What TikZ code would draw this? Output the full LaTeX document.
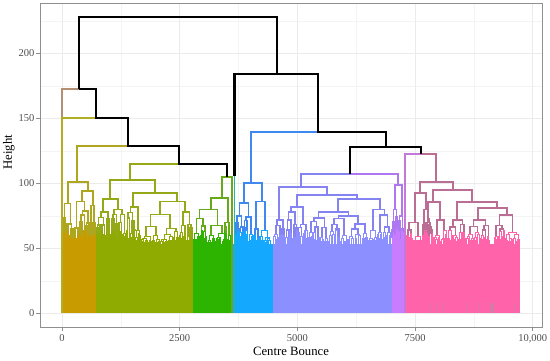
\documentclass[tikz,border=0pt]{standalone}
\usepackage{fontspec}
\setmainfont{Liberation Serif}
\definecolor{cBr}{HTML}{B39074}
\definecolor{cOY}{HTML}{B2AE22}
\definecolor{cOrL}{HTML}{ADA61E}
\definecolor{cOr}{HTML}{C89B00}
\definecolor{cOrS}{HTML}{A3A418}
\definecolor{cOlL}{HTML}{94A818}
\definecolor{cOl}{HTML}{8FAA00}
\definecolor{cGrL}{HTML}{66AA1C}
\definecolor{cGr}{HTML}{2DB400}
\definecolor{cTl}{HTML}{20B8B0}
\definecolor{cBlL}{HTML}{3F88F0}
\definecolor{cBl}{HTML}{14A9FF}
\definecolor{cPwL}{HTML}{8583F2}
\definecolor{cPw}{HTML}{8B8FFF}
\definecolor{cMgL}{HTML}{AE78F2}
\definecolor{cMg}{HTML}{C87CFF}
\definecolor{cPkL}{HTML}{BA6E94}
\definecolor{cPk}{HTML}{FF63A9}
\definecolor{cPkS}{HTML}{D67AA8}
\definecolor{cViP}{HTML}{C678D8}
\definecolor{gmaj}{HTML}{EBEBEB}
\definecolor{gmin}{HTML}{F4F4F4}
\definecolor{bord}{HTML}{8F8F8F}
\definecolor{txt}{HTML}{4D4D4D}
\def\dlo{54}
\def\dthr{64}
\newcommand\br[5]{\draw (#1,#4) |- (#2,#3) -- (#2,#5);}
\newcommand\dnd[4]{%
  \ifnum#4>0
    \begingroup
      \pgfmathsetmacro\dS{#1+(#2-#1)*(0.3+0.4*rnd)}%
      \pgfmathsetmacro\dL{(#1+\dS)/2}%
      \pgfmathsetmacro\dR{(\dS+#2)/2}%
      \pgfmathsetmacro\dHl{\dlo+(#3-\dlo)*(0.3+0.6*rnd)}%
      \pgfmathsetmacro\dHr{\dlo+(#3-\dlo)*(0.3+0.6*rnd)}%
      \ifdim#3pt>\dthr pt
        \draw[dl] (\dL,\dHl) |- (\dR,#3) -- (\dR,\dHr);%
      \else
        \draw[dd] (\dL,\dHl) |- (\dR,#3) -- (\dR,\dHr);%
      \fi
      \edef\dNext{\noexpand\dnd{#1}{\dS}{\dHl}{\the\numexpr#4-1\relax}\noexpand\dnd{\dS}{#2}{\dHr}{\the\numexpr#4-1\relax}}%
    \expandafter\endgroup\dNext
  \else
    \pgfmathsetmacro\dM{(#1+#2)/2}%
    \draw[dd] (\dM,#3) -- (\dM,0);%
  \fi}
\begin{document}
\begin{tikzpicture}[x=1pt,y=1pt,
  gridmaj/.style={gmaj,line width=0.9pt},
  gridmin/.style={gmin,line width=0.5pt},
  blk/.style={black,line width=2.1pt},
  lw/.style={line width=1.8pt},
  tickmark/.style={bord,line width=0.8pt},
  ylab/.style={anchor=east,txt,font=\fontsize{10.5}{12}\selectfont,inner sep=0pt},
  xlab/.style={anchor=base,txt,font=\fontsize{10.5}{12}\selectfont,inner sep=0pt},
  ttl/.style={anchor=base,black,font=\fontsize{12.7}{14}\selectfont,inner sep=0pt}]
\useasboundingbox (0,0) rectangle (550,360);
\pgfmathsetseed{4242}
\begin{scope}[shift={(0,46.7)},yscale=1.3]
% grid
\foreach \x in {120.85,238.55,356.25,473.95} \draw[gridmin] (\x,-10.5) -- (\x,238.7);
\foreach \h in {25,75,125,175,225} \draw[gridmin] (40,\h) -- (542,\h);
\foreach \x in {62,179.7,297.4,415.1,532.8} \draw[gridmaj] (\x,-10.5) -- (\x,238.7);
\foreach \h in {0,50,100,150,200} \draw[gridmaj] (40,\h) -- (542,\h);
% dense fills
\fill[cOr] (62,0) rectangle (96,53);
\fill[cOl] (96,0) rectangle (193.3,53);
\fill[cGr] (193.3,0) rectangle (232.7,53);
\fill[cBl] (232.7,0) rectangle (273.3,53);
\fill[cPw] (273.3,0) rectangle (392.7,53);
\fill[cMg] (392.7,0) rectangle (404,53);
\fill[cPk] (404,0) rectangle (520,53);
\fill[cOrS] (62,0) rectangle (96,7.7);
\fill[cPkS] (404,0) rectangle (520,7.7);
% orange cluster
\begin{scope}[cOrL,lw,dl/.style={cOrL,line width=1.6pt},dd/.style={cOr,line width=1pt}]
\br{68}{88.3}{100.8}{84.6}{94}
\br{82}{93}{94}{86}{83}
\dnd{62}{74}{84.6}{5}
\dnd{74}{90}{86}{5}
\dnd{90}{96}{83}{3}
\end{scope}
% olive cluster
\begin{scope}[cOlL,lw,dl/.style={cOlL,line width=1.6pt},dd/.style={cOl,line width=1pt}]
\br{110}{155}{102.5}{87.7}{92.3}
\br{103.3}{118.3}{87.7}{78}{80}
\br{133.3}{176.7}{92.3}{82}{86}
\br{160}{185}{86}{76}{78}
\dnd{96}{110.6}{78}{5}
\dnd{110.6}{126}{80}{5}
\dnd{126}{140.6}{82}{5}
\dnd{140.6}{179.4}{76}{6}
\dnd{179.4}{192.6}{78}{4}
\end{scope}
% green cluster
\begin{scope}[cGrL,lw,dl/.style={cGrL,line width=1.6pt},dd/.style={cGr,line width=1pt}]
\br{211}{228}{88.5}{80}{70}
\dnd{193}{229}{80}{6}
\dnd{224}{232}{70}{3}
\end{scope}
% blue cluster
\begin{scope}[cBlL,lw,dl/.style={cBlL,line width=1.6pt},dd/.style={cBl,line width=1pt}]
\br{244}{262}{100}{85}{86}
\dnd{235}{253}{85}{5}
\dnd{253}{271}{86}{5}
\end{scope}
% periwinkle cluster
\begin{scope}[cPwL,lw,dl/.style={cPwL,line width=1.6pt},dd/.style={cPw,line width=1pt}]
\br{279}{326.7}{97.4}{72}{91}
\br{296.7}{356.7}{91}{82}{87.7}
\br{338.3}{380}{87.7}{78}{80}
\dnd{273}{285}{72}{4}
\dnd{285}{308.4}{82}{5}
\dnd{308.4}{368.2}{78}{6}
\dnd{368.2}{391.8}{80}{5}
\end{scope}
% magenta cluster
\begin{scope}[cMgL,lw,dl/.style={cMgL,line width=1.6pt},dd/.style={cMg,line width=1pt}]
\br{395}{401.7}{98.7}{80}{75}
\dnd{392}{398}{80}{3}
\dnd{398}{404.4}{75}{3}
\end{scope}
% pink cluster
\begin{scope}[cPkL,lw,dl/.style={cPkL,line width=1.6pt},dd/.style={cPk,line width=1pt}]
\br{420}{452.7}{101.3}{92.3}{94.8}
\br{415}{426}{92.3}{70}{80}
\br{433.3}{471.7}{94.8}{85.9}{85.9}
\br{428.3}{440}{85.9}{70}{72}
\br{456.7}{496.7}{85.9}{71.8}{80.8}
\br{478}{507}{80.8}{72}{75.6}
\dnd{406}{424}{70}{5}
\dnd{422}{430}{80}{3}
\dnd{424}{432.6}{70}{3}
\dnd{432.6}{447.4}{72}{4}
\dnd{447.4}{466}{71.8}{5}
\dnd{466}{490}{72}{5}
\dnd{494}{520}{75.6}{5}
\end{scope}
% outlier leaves and cluster tops
\draw[cBr,lw] (79,172.3) -- (62,172.3) -- (62,150);
\draw[cOY,lw] (95.7,150) -- (62,150) -- (62,0);
\draw[cOrL,lw] (128.3,128.7) -- (77.3,128.7) -- (77.3,100.8);
\draw[cOlL,lw] (178.7,114.8) -- (130,114.8) -- (130,102.5);
\draw[cGrL,lw] (226.7,105.1) -- (221.7,105.1) -- (221.7,88.5);
\draw[cGrL,lw] (226.7,105.1) -- (232.3,105.1) -- (232.3,0);
\draw[cTl,lw] (234.5,106) -- (234.5,0);
\draw[cBlL,lw] (318.3,139.2) -- (251,139.2) -- (251,100);
\draw[cPwL,lw] (350,107.1) -- (300.7,107.1) -- (300.7,97.4);
\draw[cMgL,lw] (350,107.1) -- (398.3,107.1) -- (398.3,98.7);
\draw[cViP,lw] (420.7,122.3) -- (405,122.3) -- (405,0);
\draw[cPkL,lw] (420.7,122.3) -- (436,122.3) -- (436,101.3);
% black spine
\draw[blk] (79,172.3) -- (79,227.7) -- (276.7,227.7) -- (276.7,184);
\draw[blk] (79,172.3) -- (95.7,172.3) -- (95.7,150) -- (128.3,150) -- (128.3,128.7) -- (178.7,128.7) -- (178.7,114.8) -- (226.7,114.8) -- (226.7,105.1);
\draw[blk] (234.5,106) -- (234.5,184) -- (318.3,184) -- (318.3,139.2) -- (385.7,139.2) -- (385.7,128.2);
\draw[blk] (350,107.1) -- (350,128.2) -- (420.7,128.2) -- (420.7,122.3);
% panel border, ticks, labels
\draw[bord,line width=0.8pt] (40,-10.5) rectangle (542,238.7);
\foreach \h in {0,50,100,150,200} {
  \draw[tickmark] (36.3,\h) -- (40,\h);
  \node[ylab] at (34.5,\h) {\h};
}
\foreach \x/\l in {62/0,179.7/2500,297.4/5000,415.1/7500,532.8/{10,000}} {
  \draw[tickmark] (\x,-10.5) -- (\x,-13.3);
  \node[xlab] at (\x,-21.7) {\l};
}
\node[ttl] at (291,-32.1) {Centre Bounce};
\node[ttl,rotate=90] at (11.8,124) {Height};
\end{scope}
\end{tikzpicture}
\end{document}
